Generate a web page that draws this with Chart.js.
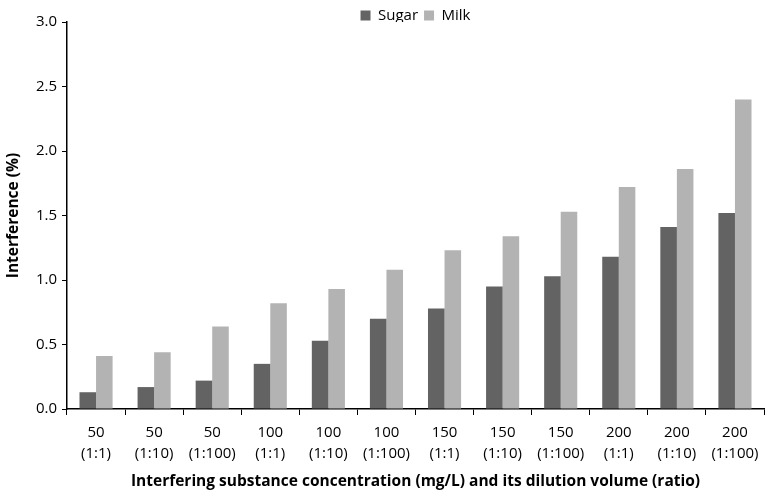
<!DOCTYPE html>
<html>
<head>
<meta charset="utf-8">
<script src="https://cdn.jsdelivr.net/npm/chart.js@4"></script>
<style>
  html, body { margin: 0; padding: 0; background: #fff; }
  #wrap { width: 767px; height: 493px; }
</style>
</head>
<body>
<div id="wrap"><canvas id="grafico"></canvas></div>
<script>
// Dados
const concentracoes = ['50', '50', '50', '100', '100', '100', '150', '150', '150', '200', '200', '200'];
const diluicoes = ['(1:1)', '(1:10)', '(1:100)', '(1:1)', '(1:10)', '(1:100)', '(1:1)', '(1:10)', '(1:100)', '(1:1)', '(1:10)', '(1:100)'];
const acucar = [0.13, 0.17, 0.22, 0.35, 0.53, 0.70, 0.78, 0.95, 1.03, 1.18, 1.41, 1.52];
const leite = [0.41, 0.44, 0.64, 0.82, 0.93, 1.08, 1.23, 1.34, 1.53, 1.72, 1.86, 2.40];

const FONTE = "'Open Sans', 'Liberation Sans', sans-serif";

// Ajusta altura da legenda para o topo do gráfico bater com a figura
const legendaPlugin = {
    id: 'legendaPlugin',
    beforeInit(chart) {
        const fitOriginal = chart.legend.fit;
        chart.legend.fit = function () {
            fitOriginal.bind(chart.legend)();
            this.height = 20;
        };
    }
};

const labels = concentracoes.map((c, i) => [c, diluicoes[i]]);

new Chart(document.getElementById('grafico'), {
    type: 'bar',
    data: {
        labels: labels,
        datasets: [
            { label: 'Sugar', data: acucar, backgroundColor: '#636363', borderWidth: 0 },
            { label: 'Milk', data: leite, backgroundColor: '#b3b3b3', borderWidth: 0 }
        ]
    },
    options: {
        responsive: true,
        maintainAspectRatio: false,
        animation: false,
        datasets: {
            bar: { categoryPercentage: 0.57, barPercentage: 1.0 }
        },
        layout: { padding: { left: 4, right: 3, top: 2, bottom: 0 } },
        plugins: {
            legend: {
                position: 'top',
                fullSize: false,
                labels: {
                    boxWidth: 10,
                    boxHeight: 10,
                    padding: 6,
                    color: '#000',
                    font: { family: FONTE, size: 15 }
                }
            },
            tooltip: { enabled: false }
        },
        scales: {
            x: {
                grid: {
                    display: true,
                    drawOnChartArea: false,
                    drawTicks: true,
                    tickLength: 6,
                    color: '#000',
                    offset: true
                },
                border: { color: '#000', width: 1.5 },
                ticks: {
                    color: '#000',
                    maxRotation: 0,
                    autoSkip: false,
                    padding: 8,
                    font: { family: FONTE, size: 15, lineHeight: 1.35 }
                },
                title: {
                    display: true,
                    text: 'Interfering substance concentration (mg/L) and its dilution volume (ratio)',
                    color: '#000',
                    padding: { top: 6, bottom: 2 },
                    font: { family: FONTE, size: 15.5, weight: 'bold' }
                },
                afterFit(scale) { scale.height = 84; }
            },
            y: {
                min: 0,
                max: 3,
                grid: {
                    display: true,
                    drawOnChartArea: false,
                    drawTicks: true,
                    tickLength: 5,
                    color: '#000'
                },
                border: { color: '#000', width: 1.5 },
                ticks: {
                    stepSize: 0.5,
                    color: '#000',
                    padding: 5,
                    font: { family: FONTE, size: 15 },
                    callback: v => v.toFixed(1)
                },
                title: {
                    display: true,
                    text: 'Interference (%)',
                    color: '#000',
                    padding: { top: 0, bottom: 4 },
                    font: { family: FONTE, size: 15.5, weight: 'bold' }
                },
                afterFit(scale) { scale.width = 63; }
            }
        }
    },
    plugins: [legendaPlugin]
});
</script>
</body>
</html>
